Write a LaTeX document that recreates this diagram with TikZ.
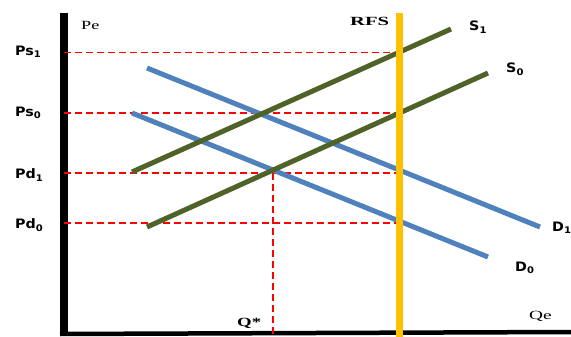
\documentclass[tikz,border=0pt]{standalone}
\usepackage{graphicx}
\usepackage{fontspec}
\setmainfont{Liberation Serif}
\newfontfamily\lblfont{DejaVu Sans}
\definecolor{dblue}{RGB}{79,129,189}
\definecolor{sgreen}{RGB}{79,98,40}
\definecolor{rfs}{RGB}{255,192,0}
\newcommand{\widetxt}[2]{\scalebox{#1}[1]{#2}}
\begin{document}
\begin{tikzpicture}[x=1pt,y=-1pt,
  axisline/.style={line width=8pt,black},
  xaxisline/.style={line width=4.5pt,black},
  guide/.style={red,line width=1.5pt,dash pattern=on 7pt off 4pt},
  demand/.style={dblue,line width=5pt},
  supply/.style={sgreen,line width=5pt},
  rfsline/.style={rfs,line width=7pt},
  curvelbl/.style={font=\lblfont\bfseries\fontsize{13}{15}\selectfont,inner sep=0pt},
  axlbl/.style={font=\fontsize{12.5}{14}\selectfont,inner sep=0pt},
  boldlbl/.style={font=\bfseries\fontsize{12.5}{14}\selectfont,inner sep=0pt}]
\useasboundingbox (0,0) rectangle (571,337);
% axes
\coordinate (ytop) at (64,13);
\coordinate (orig) at (64,334);
\coordinate (xstart) at (60,334);
\coordinate (xend) at (571,332);
\draw[axisline] (ytop) -- (orig);
\draw[xaxisline] (xstart) -- (xend);
% RFS
\coordinate (rfstop) at (399.5,13);
\coordinate (rfsbot) at (399.5,337);
% guides
\coordinate (ps1a) at (64,52.5); \coordinate (ps1b) at (399.5,52.5);
\coordinate (ps0a) at (64,113); \coordinate (ps0b) at (399.5,113);
\coordinate (pd1a) at (64,173); \coordinate (pd1b) at (399.5,173);
\coordinate (pd0a) at (64,223); \coordinate (pd0b) at (399.5,223);
\coordinate (qtop) at (273,173); \coordinate (qbot) at (273,337);
\draw[guide] (ps1a) -- (ps1b);
\draw[guide] (ps0a) -- (ps0b);
\draw[guide] (pd1a) -- (pd1b);
\draw[guide] (pd0a) -- (pd0b);
\draw[guide] (qtop) -- (qbot);
% curves
\coordinate (d1s) at (147,68); \coordinate (d1e) at (540,227);
\coordinate (d0s) at (132,113); \coordinate (d0e) at (488,257);
\coordinate (s1s) at (132,172); \coordinate (s1e) at (451,29);
\coordinate (s0s) at (147,227); \coordinate (s0e) at (488,73);
\draw[demand] (d1s) -- (d1e);
\draw[demand] (d0s) -- (d0e);
\draw[supply] (s1s) -- (s1e);
\draw[supply] (s0s) -- (s0e);
\draw[rfsline] (rfstop) -- (rfsbot);
% labels
\node[curvelbl,anchor=west] (lps1) at (15,52) {\widetxt{1.1}{Ps\textsubscript{1}}};
\node[curvelbl,anchor=west] (lps0) at (15,113) {\widetxt{1.1}{Ps\textsubscript{0}}};
\node[curvelbl,anchor=west] (lpd1) at (15,175) {\widetxt{1.1}{Pd\textsubscript{1}}};
\node[curvelbl,anchor=west] (lpd0) at (15,225) {\widetxt{1.1}{Pd\textsubscript{0}}};
\node[curvelbl,anchor=west] (ls1) at (469,27) {\widetxt{1.1}{S\textsubscript{1}}};
\node[curvelbl,anchor=west] (ls0) at (506,69) {\widetxt{1.1}{S\textsubscript{0}}};
\node[curvelbl,anchor=west] (ld1) at (552,228) {\widetxt{1.1}{D\textsubscript{1}}};
\node[curvelbl,anchor=west] (ld0) at (515,268) {\widetxt{1.1}{D\textsubscript{0}}};
\node[axlbl,anchor=west] (lpe) at (81,25) {\widetxt{1.45}{Pe}};
\node[axlbl,anchor=west] (lqe) at (529,316) {\widetxt{1.55}{Qe}};
\node[boldlbl,anchor=west] (lrfs) at (350,21) {\widetxt{1.65}{RFS}};
\node[boldlbl,anchor=west] (lq) at (237,323) {\widetxt{1.5}{Q*}};
\end{tikzpicture}
\end{document}
